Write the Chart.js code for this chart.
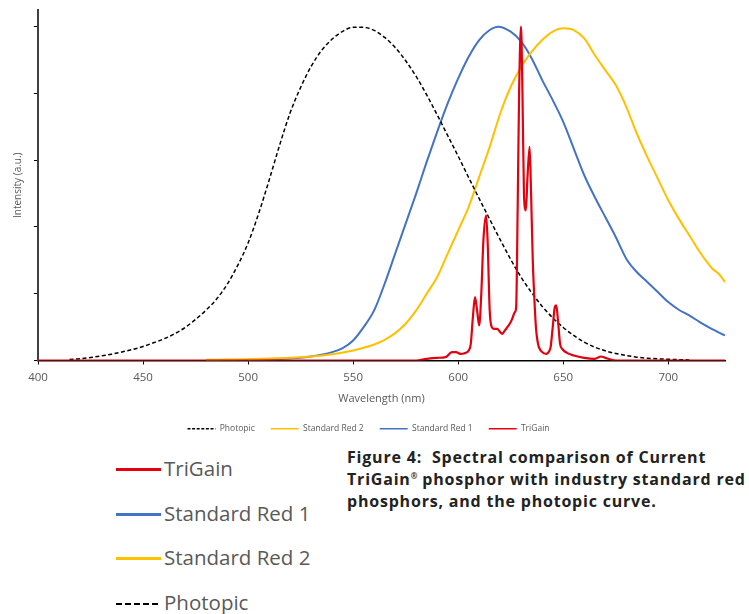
<!DOCTYPE html>
<html>
<head>
<meta charset="utf-8">
<script src="https://cdn.jsdelivr.net/npm/chart.js@4/dist/chart.umd.min.js"></script>
<style>
  html, body { margin: 0; padding: 0; background: #fff; overflow: hidden; }
  body { width: 749px; height: 614px; position: relative; font-family: "Open Sans", sans-serif; }
  #wrap { position: absolute; left: 0; top: 0; width: 749px; height: 443px; }
  .key { position: absolute; left: 116px; height: 30px; font-size: 20.5px; color: #595959; line-height: 30px; white-space: nowrap; }
  .key i { display: inline-block; width: 45px; height: 3px; vertical-align: middle; margin-right: 3px; position: relative; top: -1px; }
  #caption { position: absolute; left: 347px; top: 446px; font-size: 16px; letter-spacing: 0.8px; font-weight: bold; line-height: 22px; color: #222; white-space: pre; }
  #caption sup { font-size: 8px; vertical-align: 6px; line-height: 0; letter-spacing: 0; }
</style>
</head>
<body>
<div id="wrap"><canvas id="chart"></canvas></div>

<div class="key" style="top:453px"><i style="background:#e3000f"></i>TriGain</div>
<div class="key" style="top:498px"><i style="background:#4472c4"></i>Standard Red 1</div>
<div class="key" style="top:542px"><i style="background:#ffc000"></i>Standard Red 2</div>
<div class="key" style="top:587px"><i style="height:2px;background:repeating-linear-gradient(to right,#000 0 6px,transparent 6px 9px)"></i>Photopic</div>

<div id="caption">Figure 4:  Spectral comparison of Current
TriGain<sup>®</sup> phosphor with industry standard red
phosphors, and the photopic curve.</div>

<script>
// wavelengths (nm) and relative intensities
const photopicNm = [415, 420, 425, 430, 435, 440, 445, 450, 455, 460, 465, 470, 475, 480, 485, 490, 495, 500, 505, 510, 515, 520, 525, 530, 535, 540, 545, 550, 555, 560, 565, 570, 575, 580, 585, 590, 595, 600, 605, 610, 615, 620, 625, 630, 635, 640, 645, 650, 655, 660, 665, 670, 675, 680, 685, 690, 695, 700, 705, 710];
const photopic = [0.003, 0.0055, 0.009, 0.0137, 0.019, 0.0257, 0.033, 0.042, 0.053, 0.065, 0.08, 0.099, 0.123, 0.151, 0.184, 0.228, 0.284, 0.352, 0.44, 0.54, 0.645, 0.742, 0.818, 0.881, 0.929, 0.963, 0.986, 0.998, 0.998, 0.989, 0.968, 0.938, 0.898, 0.851, 0.796, 0.736, 0.674, 0.612, 0.548, 0.485, 0.423, 0.362, 0.303, 0.249, 0.203, 0.162, 0.128, 0.099, 0.075, 0.055, 0.04, 0.029, 0.021, 0.015, 0.01, 0.007, 0.005, 0.0036, 0.0026, 0.0018];

const red2Nm = [480, 490, 500, 510, 520, 530, 540, 550, 555, 560, 565, 570, 575, 580, 585, 590, 595, 600, 605, 610, 615, 620, 625, 630, 635, 640, 645, 650, 655, 660, 665, 670, 675, 680, 685, 690, 695, 700, 705, 710, 715, 719, 721, 724, 727];
const red2 = [0.002, 0.003, 0.004, 0.006, 0.008, 0.012, 0.019, 0.03, 0.038, 0.048, 0.062, 0.082, 0.11, 0.15, 0.2, 0.25, 0.32, 0.39, 0.46, 0.55, 0.64, 0.74, 0.82, 0.88, 0.925, 0.96, 0.985, 0.995, 0.99, 0.965, 0.915, 0.87, 0.825, 0.76, 0.68, 0.61, 0.545, 0.48, 0.425, 0.375, 0.325, 0.29, 0.275, 0.26, 0.235];

const red1Nm = [500, 510, 520, 530, 540, 545, 550, 555, 560, 565, 570, 575, 580, 585, 590, 595, 600, 605, 610, 615, 619, 625, 630, 635, 640, 645, 650, 655, 660, 665, 670, 675, 680, 685, 690, 695, 700, 705, 710, 715, 720, 727];
const red1 = [0.002, 0.003, 0.006, 0.012, 0.025, 0.037, 0.06, 0.1, 0.15, 0.23, 0.32, 0.41, 0.5, 0.595, 0.685, 0.77, 0.845, 0.91, 0.96, 0.99, 1.0, 0.985, 0.955, 0.905, 0.84, 0.78, 0.715, 0.635, 0.555, 0.49, 0.43, 0.37, 0.305, 0.265, 0.235, 0.205, 0.175, 0.152, 0.135, 0.115, 0.097, 0.075];

const triNm = [400, 580, 585, 590, 594, 597, 599, 601, 603, 605, 606, 607, 608, 609, 610, 611, 612, 613.3, 614, 615, 616, 617, 618.5, 620, 621, 622, 624, 625, 626, 627, 627.6, 628.3, 629, 629.9, 630.6, 631.3, 632.2, 633, 634, 634.7, 635.5, 636.3, 637, 638, 640, 642, 643, 644, 645, 646, 646.7, 647.5, 648.5, 649.5, 652, 655, 660, 665, 668, 670, 673, 675, 727];
const tri = [0, 0, 0.005, 0.008, 0.01, 0.025, 0.025, 0.02, 0.022, 0.03, 0.05, 0.13, 0.19, 0.15, 0.105, 0.2, 0.36, 0.435, 0.36, 0.15, 0.1, 0.095, 0.095, 0.085, 0.08, 0.088, 0.105, 0.115, 0.13, 0.145, 0.16, 0.45, 0.8, 1.0, 0.8, 0.5, 0.45, 0.55, 0.64, 0.5, 0.3, 0.18, 0.1, 0.05, 0.025, 0.02, 0.025, 0.04, 0.1, 0.16, 0.165, 0.12, 0.05, 0.035, 0.022, 0.015, 0.008, 0.005, 0.012, 0.008, 0.002, 0, 0];

const xTicks = [400, 450, 500, 550, 600, 650, 700];

const pts = (xs, ys) => xs.map((x, i) => ({ x: x, y: ys[i] }));

const gray = '#595959';

new Chart(document.getElementById('chart'), {
    type: 'line',
    data: {
        datasets: [
            { label: 'Photopic', data: pts(photopicNm, photopic), borderColor: '#000', backgroundColor: '#000', borderWidth: 1.5, borderDash: [4, 2.5], order: 1 },
            { label: 'Standard Red 2', data: pts(red2Nm, red2), borderColor: '#ffc000', backgroundColor: '#ffc000', borderWidth: 2, order: 1 },
            { label: 'Standard Red 1', data: pts(red1Nm, red1), borderColor: '#4472c4', backgroundColor: '#4472c4', borderWidth: 2, order: 1 },
            { label: 'TriGain', data: pts(triNm, tri), borderColor: '#e3000f', backgroundColor: '#e3000f', borderWidth: 2.2, order: 0 }
        ]
    },
    options: {
        responsive: true,
        maintainAspectRatio: false,
        animation: false,
        layout: { padding: { top: 10, right: 24, left: 12, bottom: 0 } },
        elements: {
            point: { radius: 0 },
            line: { cubicInterpolationMode: 'monotone', fill: false }
        },
        plugins: {
            tooltip: { enabled: false },
            legend: {
                position: 'bottom',
                labels: {
                    usePointStyle: true,
                    pointStyle: 'line',
                    pointStyleWidth: 28,
                    padding: 16,
                    color: gray,
                    font: { family: 'Open Sans', size: 8.5 },
                    sort: (a, b) => a.datasetIndex - b.datasetIndex,
                    // point-style legend ignores the dataset dash, so copy it over
                    generateLabels: (chart) => Chart.defaults.plugins.legend.labels.generateLabels(chart).map(item => {
                        const ds = chart.data.datasets[item.datasetIndex];
                        item.lineDash = ds.borderDash ? [3, 1.6] : [];
                        item.lineWidth = 1.5;
                        item.strokeStyle = ds.borderColor;
                        return item;
                    })
                }
            }
        },
        scales: {
            x: {
                type: 'linear',
                min: 400,
                max: 727,
                afterFit: (s) => { s.height = 48; },
                afterBuildTicks: (s) => { s.ticks = xTicks.map(v => ({ value: v })); },
                border: { color: '#000', width: 1.5 },
                grid: { drawOnChartArea: false, drawTicks: true, tickLength: 4, color: '#000' },
                ticks: { color: gray, padding: 6, font: { family: 'Open Sans', size: 11.5 } },
                title: { display: true, text: 'Wavelength (nm)', color: gray, font: { family: 'Open Sans', size: 11 }, padding: { top: 0, bottom: 3 } }
            },
            y: {
                min: 0,
                max: 1.05,
                afterFit: (s) => { s.width = 26; },
                border: { color: '#404040', width: 2 },
                grid: { drawOnChartArea: false, drawTicks: true, tickLength: 4, color: '#000' },
                ticks: { display: false, stepSize: 0.2, includeBounds: false },
                title: { display: true, text: 'Intensity (a.u.)', color: gray, font: { family: 'Open Sans', size: 10 }, padding: { top: 0, bottom: 0 } }
            }
        }
    }
});
</script>
</body>
</html>
